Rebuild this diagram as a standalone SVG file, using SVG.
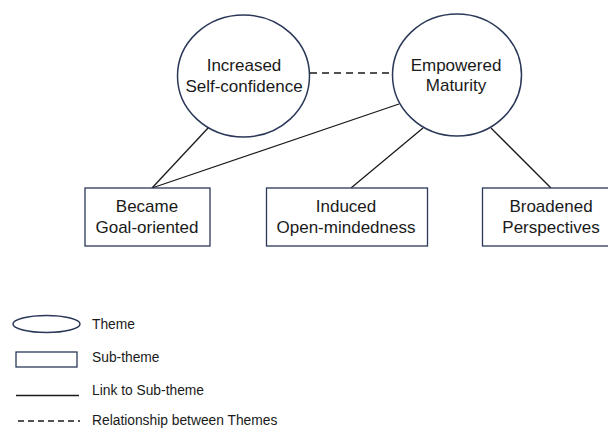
<svg xmlns="http://www.w3.org/2000/svg" width="608" height="429" viewBox="0 0 608 429">
  <style>
    .theme { fill: #ffffff; stroke: #2b3858; stroke-width: 1.5; }
    .sub { fill: #ffffff; stroke: #2b3858; stroke-width: 1.3; }
    .link { stroke: #1a1a1a; stroke-width: 1.3; fill: none; }
    .rel { stroke: #1a1a1a; stroke-width: 1.3; fill: none; stroke-dasharray: 7 5; }
    .lbl { font-family: "Liberation Sans", Arial, sans-serif; font-size: 17px; fill: #1a1a1a; text-anchor: middle; }
    .key { font-family: "Liberation Sans", Arial, sans-serif; font-size: 13.8px; fill: #1a1a1a; }
  </style>
  <rect width="608" height="429" fill="#ffffff"/>

  <!-- connectors -->
  <g id="connectors">
    <line class="rel" x1="310" y1="73" x2="393" y2="73"/>
    <line class="link" x1="209" y1="127" x2="152" y2="188"/>
    <line class="link" x1="399" y1="104" x2="152" y2="188"/>
    <line class="link" x1="423" y1="128" x2="351" y2="188"/>
    <line class="link" x1="491" y1="128" x2="551" y2="188"/>
  </g>

  <!-- themes -->
  <g id="theme-self-confidence">
    <ellipse class="theme" cx="243.5" cy="76" rx="66" ry="61"/>
    <text class="lbl" x="244" y="71">Increased</text>
    <text class="lbl" x="244" y="92">Self-confidence</text>
  </g>
  <g id="theme-empowered-maturity">
    <ellipse class="theme" cx="457" cy="75" rx="64.5" ry="61"/>
    <text class="lbl" x="456" y="71">Empowered</text>
    <text class="lbl" x="456" y="91">Maturity</text>
  </g>

  <!-- sub-themes -->
  <g id="sub-goal-oriented">
    <rect class="sub" x="85" y="188" width="125" height="58"/>
    <text class="lbl" x="147" y="212">Became</text>
    <text class="lbl" x="147" y="233">Goal-oriented</text>
  </g>
  <g id="sub-open-mindedness">
    <rect class="sub" x="266.5" y="188" width="161" height="58"/>
    <text class="lbl" x="346" y="212">Induced</text>
    <text class="lbl" x="346" y="233">Open-mindedness</text>
  </g>
  <g id="sub-broadened-perspectives">
    <rect class="sub" x="482.5" y="188" width="137" height="58"/>
    <text class="lbl" x="551" y="212">Broadened</text>
    <text class="lbl" x="551" y="233">Perspectives</text>
  </g>

  <!-- key -->
  <g id="legend">
    <ellipse class="theme" cx="46.5" cy="324" rx="33.5" ry="8.5"/>
    <text class="key" x="92" y="328.5">Theme</text>
    <rect class="sub" x="16" y="352" width="61" height="15"/>
    <text class="key" x="92" y="362">Sub-theme</text>
    <line class="link" x1="16" y1="395.5" x2="79" y2="395.5"/>
    <text class="key" x="92" y="395">Link to Sub-theme</text>
    <line class="rel" x1="18" y1="421" x2="80" y2="421" style="stroke-dasharray: 6 4"/>
    <text class="key" x="92" y="425">Relationship between Themes</text>
  </g>
</svg>
